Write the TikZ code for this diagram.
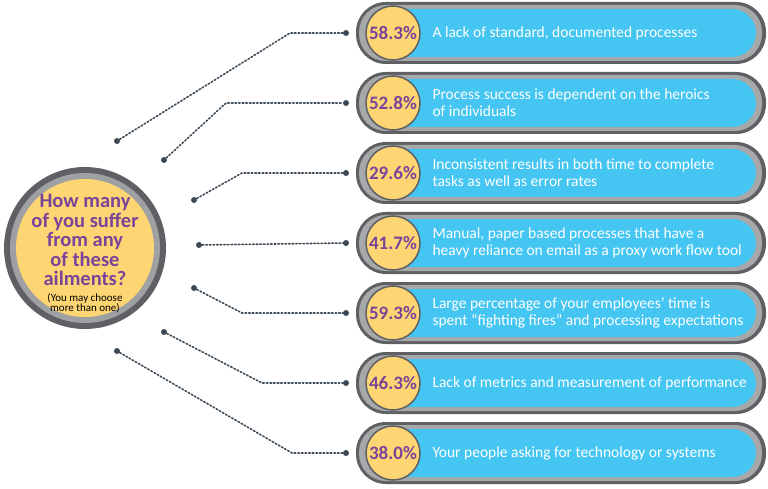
\documentclass[tikz,border=0pt]{standalone}
\usepackage{fontspec}
\setmainfont{Carlito}
\definecolor{barblue}{HTML}{45C5F2}
\definecolor{badgeyellow}{HTML}{FDD572}
\definecolor{ringgray}{HTML}{5E6063}
\definecolor{askpurple}{HTML}{7A449A}
\definecolor{dotgray}{HTML}{3D4A55}
\begin{document}
\begin{tikzpicture}[x=1pt, y=-1pt,
  bar_style/.style={rounded corners=24pt, fill=barblue},
  badge_style/.style={circle, fill=badgeyellow, draw=ringgray, line width=1.5pt, minimum size=54pt, inner sep=0pt, text=askpurple, font=\bfseries\fontsize{19}{19}\selectfont},
  item_style/.style={anchor=west, align=left, text=white, font=\fontsize{15.5}{17}\selectfont},
  dot_style/.style={circle, fill=dotgray, minimum size=6pt, inner sep=0pt},
  link_style/.style={draw=dotgray, line width=1.6pt, dotted, line cap=round}]
  \useasboundingbox (0,0) rectangle (768,489);
  % question circle
  \fill[ringgray] (85,248) circle (81);
  \fill[ringgray!60] (85,248) circle (75);
  \node[circle, fill=badgeyellow, minimum size=138pt, inner sep=0pt] (ask) at (85,248) {};
  \node[text=askpurple, align=center, font=\bfseries\fontsize{20.5}{19.5}\selectfont] at (85,240)
    {How many\\of you suffer\\from any\\of these\\ailments?};
  \node[text=black, align=center, font=\fontsize{11}{10}\selectfont] at (85,303) {(You may choose\\more than one)};
  % bars
  \foreach \y/\pct/\txt [count=\i] in {
    33/58.3\%/{A lack of standard, documented processes},
    103/52.8\%/{Process success is dependent on the heroics\\of individuals},
    173/29.6\%/{Inconsistent results in both time to complete\\tasks as well as error rates},
    243/41.7\%/{Manual, paper based processes that have a\\heavy reliance on email as a proxy work flow tool},
    313/59.3\%/{Large percentage of your employees’ time is\\spent “fighting fires” and processing expectations},
    383/46.3\%/{Lack of metrics and measurement of performance},
    453/38.0\%/{Your people asking for technology or systems}} {
    \fill[ringgray, rounded corners=30pt] (356,\y-31) rectangle (766,\y+31);
    \fill[ringgray!55, rounded corners=27pt] (359,\y-28) rectangle (762,\y+28);
    \fill[bar_style] (372,\y-24) rectangle (756,\y+24);
    \node[badge_style] (badge\i) at (393,\y) {\pct};
    \node[item_style] (item\i) at (429,\y) {\txt};
    \node[dot_style] (end\i) at (346,\y) {};
  }
  % start dots
  \node[dot_style] (start1) at (117,141) {};
  \node[dot_style] (start2) at (164,160) {};
  \node[dot_style] (start3) at (194,200) {};
  \node[dot_style] (start4) at (199,245) {};
  \node[dot_style] (start5) at (194,288) {};
  \node[dot_style] (start6) at (164,332) {};
  \node[dot_style] (start7) at (117,351) {};
  \draw[link_style] (start1) -- (290,33) -- (end1);
  \draw[link_style] (start2) -- (226,103) -- (end2);
  \draw[link_style] (start3) -- (242,173) -- (end3);
  \draw[link_style] (start4) -- (end4);
  \draw[link_style] (start5) -- (242,313) -- (end5);
  \draw[link_style] (start6) -- (262,383) -- (end6);
  \draw[link_style] (start7) -- (292,453) -- (end7);
\end{tikzpicture}
\end{document}
